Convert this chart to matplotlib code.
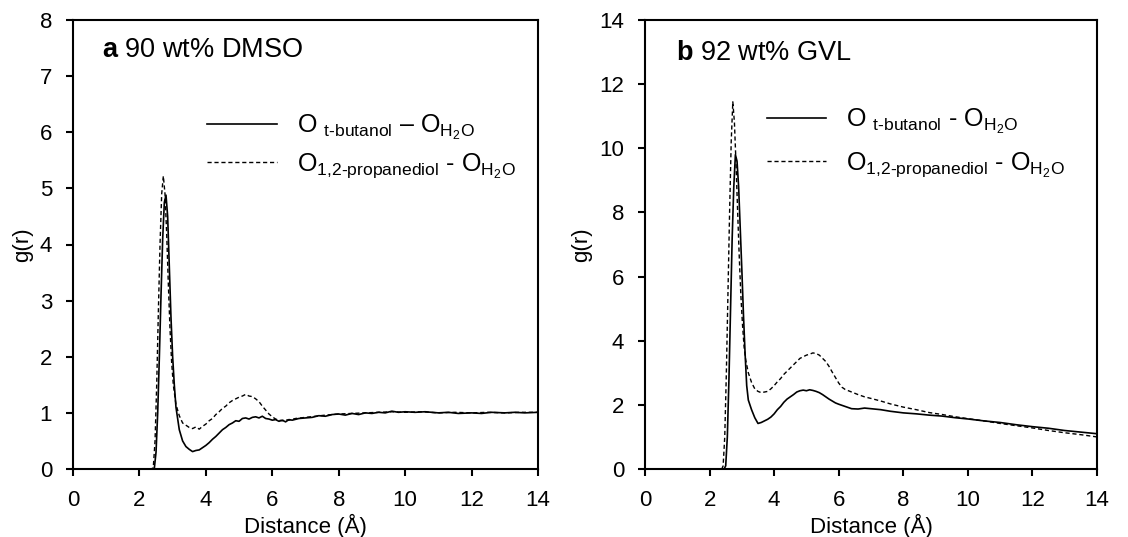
import matplotlib
matplotlib.use("Agg")
import matplotlib.pyplot as plt

plt.rcParams['font.family'] = ['Liberation Sans', 'DejaVu Sans']
plt.rcParams['mathtext.fontset'] = 'custom'
plt.rcParams['mathtext.rm'] = 'Liberation Sans'
plt.rcParams['mathtext.it'] = 'Liberation Sans:italic'
plt.rcParams['mathtext.bf'] = 'Liberation Sans:bold'

# ---- Panel a: 90 wt% DMSO ----
a_tbu_r = [0, 2.40, 2.45, 2.50, 2.55, 2.60, 2.65, 2.70, 2.75, 2.80, 2.85, 2.90, 2.95, 3.00, 3.05, 3.10,
           3.20, 3.30, 3.40, 3.50, 3.60, 3.70, 3.80, 3.90, 4.00, 4.10, 4.20, 4.30, 4.40, 4.50, 4.60, 4.70,
           4.80, 4.90, 5.00, 5.10, 5.20, 5.30, 5.40, 5.50, 5.60, 5.70, 5.80, 5.90, 6.00, 6.10, 6.20, 6.30,
           6.40, 6.50, 6.60, 6.80, 7.00, 7.20, 7.40, 7.60, 7.80, 8.00, 8.20, 8.40, 8.60, 8.80, 9.00, 9.20,
           9.40, 9.60, 9.80, 10.0, 10.3, 10.6, 11.0, 11.3, 11.6, 12.0, 12.3, 12.6, 13.0, 13.3, 13.6, 14.0]
a_tbu_g = [0, 0, 0.02, 0.30, 1.00, 2.00, 3.10, 4.10, 4.75, 4.88, 4.50, 3.60, 2.70, 2.00, 1.50, 1.10,
           0.70, 0.50, 0.40, 0.35, 0.31, 0.33, 0.34, 0.38, 0.42, 0.47, 0.53, 0.58, 0.64, 0.70, 0.74, 0.79,
           0.82, 0.86, 0.85, 0.90, 0.91, 0.89, 0.92, 0.93, 0.91, 0.94, 0.90, 0.89, 0.87, 0.88, 0.85, 0.87,
           0.84, 0.88, 0.87, 0.90, 0.91, 0.92, 0.95, 0.94, 0.97, 0.98, 0.96, 0.99, 0.97, 1.00, 0.99, 1.01,
           1.00, 1.03, 1.01, 1.02, 1.01, 1.02, 1.00, 1.01, 0.99, 1.00, 0.99, 1.01, 1.00, 1.01, 1.00, 1.01]

a_pd_r = [0, 2.38, 2.42, 2.47, 2.52, 2.57, 2.62, 2.67, 2.72, 2.77, 2.82, 2.87, 2.92, 2.97, 3.02, 3.10,
          3.20, 3.30, 3.40, 3.50, 3.60, 3.70, 3.80, 3.90, 4.00, 4.10, 4.20, 4.30, 4.40, 4.50, 4.60, 4.70,
          4.80, 4.90, 5.00, 5.10, 5.20, 5.30, 5.40, 5.50, 5.60, 5.70, 5.80, 5.90, 6.00, 6.10, 6.20, 6.30,
          6.40, 6.50, 6.70, 7.00, 7.30, 7.60, 8.00, 8.40, 8.80, 9.20, 9.60, 10.0, 10.5, 11.0, 11.5, 12.0,
          12.5, 13.0, 13.5, 14.0]
a_pd_g = [0, 0, 0.05, 0.50, 1.50, 2.80, 4.00, 4.90, 5.22, 4.90, 4.20, 3.30, 2.50, 1.90, 1.50, 1.15,
          0.95, 0.82, 0.78, 0.74, 0.72, 0.75, 0.71, 0.76, 0.80, 0.86, 0.90, 0.97, 1.02, 1.08, 1.12, 1.18,
          1.22, 1.25, 1.28, 1.30, 1.33, 1.30, 1.29, 1.25, 1.20, 1.12, 1.05, 0.98, 0.93, 0.89, 0.87, 0.86,
          0.88, 0.87, 0.90, 0.92, 0.94, 0.96, 0.98, 0.99, 1.00, 1.01, 1.02, 1.01, 1.02, 1.00, 1.01, 1.00,
          1.01, 1.00, 1.01, 1.01]

# ---- Panel b: 92 wt% GVL ----
b_tbu_r = [0, 2.45, 2.50, 2.55, 2.60, 2.65, 2.70, 2.75, 2.80, 2.85, 2.90, 2.95, 3.00, 3.05, 3.10, 3.15,
           3.20, 3.30, 3.40, 3.50, 3.60, 3.70, 3.80, 3.90, 4.00, 4.10, 4.20, 4.30, 4.40, 4.50, 4.60, 4.70,
           4.80, 4.90, 5.00, 5.10, 5.20, 5.30, 5.40, 5.50, 5.60, 5.70, 5.80, 5.90, 6.00, 6.20, 6.40, 6.60,
           6.80, 7.00, 7.30, 7.60, 8.00, 8.40, 8.80, 9.20, 9.60, 10.0, 10.5, 11.0, 11.5, 12.0, 12.5, 13.0,
           13.5, 14.0]
b_tbu_g = [0, 0, 0.10, 1.00, 2.80, 5.00, 7.20, 8.80, 9.80, 9.60, 8.80, 7.50, 6.20, 4.80, 3.60, 2.60,
           2.15, 1.85, 1.60, 1.42, 1.45, 1.50, 1.55, 1.62, 1.72, 1.85, 1.95, 2.08, 2.18, 2.25, 2.32, 2.40,
           2.44, 2.46, 2.44, 2.47, 2.45, 2.42, 2.38, 2.32, 2.25, 2.18, 2.12, 2.06, 2.02, 1.95, 1.88, 1.87,
           1.90, 1.88, 1.85, 1.80, 1.75, 1.72, 1.68, 1.65, 1.60, 1.56, 1.50, 1.45, 1.38, 1.32, 1.27, 1.20,
           1.15, 1.10]

b_pd_r = [0, 2.38, 2.42, 2.47, 2.52, 2.57, 2.62, 2.67, 2.72, 2.77, 2.82, 2.87, 2.92, 2.97, 3.02, 3.07,
          3.12, 3.20, 3.30, 3.40, 3.50, 3.60, 3.70, 3.80, 3.90, 4.00, 4.10, 4.20, 4.30, 4.40, 4.50, 4.60,
          4.70, 4.80, 4.90, 5.00, 5.10, 5.20, 5.30, 5.40, 5.50, 5.60, 5.70, 5.80, 5.90, 6.00, 6.10, 6.20,
          6.40, 6.60, 6.80, 7.00, 7.30, 7.60, 8.00, 8.40, 8.80, 9.20, 9.60, 10.0, 10.5, 11.0, 11.5, 12.0,
          12.5, 13.0, 13.5, 14.0]
b_pd_g = [0, 0, 0.10, 1.00, 3.00, 5.50, 8.00, 10.2, 11.45, 10.8, 9.50, 8.00, 6.60, 5.40, 4.50, 3.80,
          3.40, 3.00, 2.70, 2.50, 2.42, 2.38, 2.40, 2.42, 2.50, 2.60, 2.72, 2.82, 2.95, 3.05, 3.15, 3.25,
          3.35, 3.45, 3.50, 3.55, 3.58, 3.62, 3.60, 3.55, 3.45, 3.35, 3.20, 3.02, 2.85, 2.68, 2.55, 2.48,
          2.40, 2.32, 2.25, 2.20, 2.12, 2.03, 1.93, 1.85, 1.76, 1.70, 1.63, 1.57, 1.50, 1.42, 1.35, 1.28,
          1.20, 1.13, 1.07, 1.00]

x_ticks = [0, 2, 4, 6, 8, 10, 12, 14]
a_yticks = [0, 1, 2, 3, 4, 5, 6, 7, 8]
b_yticks = [0, 2, 4, 6, 8, 10, 12, 14]

a_labels = [r"O $_{\text{t-butanol}}$ – O$_{\mathrm{H_2O}}$",
            r"O$_{\text{1,2-propanediol}}$ - O$_{\mathrm{H_2O}}$"]
b_labels = [r"O $_{\text{t-butanol}}$ - O$_{\mathrm{H_2O}}$",
            r"O$_{\text{1,2-propanediol}}$ - O$_{\mathrm{H_2O}}$"]

fig = plt.figure(figsize=(11.28, 5.37), dpi=100)
W, H = 1128, 537
axa = fig.add_axes([73 / W, 1 - 469 / H, (538 - 73) / W, (469 - 20) / H])
axb = fig.add_axes([645 / W, 1 - 469 / H, (1097 - 645) / W, (469 - 20) / H])

dash = (0, (3.0, 2.0))
panels = [
    (axa, a_tbu_r, a_tbu_g, a_pd_r, a_pd_g, a_labels, a_yticks, ("a", " 90 wt% DMSO"),
     (0.062, 0.918), dict(x=(207 - 73) / 465, y=(469 - 113) / 449, hl=2.8, tp=0.8, ls=0.38)),
    (axb, b_tbu_r, b_tbu_g, b_pd_r, b_pd_g, b_labels, b_yticks, ("b", " 92 wt% GVL"),
     (0.069, 0.911), dict(x=(767 - 645) / 452, y=(469 - 107) / 449, hl=2.35, tp=0.8, ls=0.57)),
]
for ax, r1, g1, r2, g2, labels, yt, title, tpos, leg in panels:
    l1, = ax.plot(r1, g1, color='black', lw=1.2, label=labels[0])
    l2, = ax.plot(r2, g2, color='black', lw=1.0, linestyle=dash, label=labels[1])
    ax.set_xlim(0, 14)
    ax.set_ylim(yt[0], yt[-1])
    ax.set_xticks(x_ticks)
    ax.set_yticks(yt)
    ax.tick_params(direction='out', length=5, width=1.5, labelsize=16, pad=10, colors='black')
    for s in ax.spines.values():
        s.set_linewidth(1.5)
    ax.set_xlabel("Distance (Å)", fontsize=16, labelpad=2)
    ax.set_ylabel("g(r)", fontsize=16, labelpad=5)
    ax.text(tpos[0], tpos[1], r"$\mathbf{" + title[0] + "}$" + title[1], transform=ax.transAxes,
            fontsize=19.5, ha='left', va='baseline')
    ax.legend(handles=[l1, l2], loc='upper left', bbox_to_anchor=(leg['x'], leg['y']),
              frameon=False, fontsize=18, handlelength=leg['hl'], handletextpad=leg['tp'],
              labelspacing=leg['ls'], borderpad=0, borderaxespad=0)

fig.savefig("out.png", dpi=100)
